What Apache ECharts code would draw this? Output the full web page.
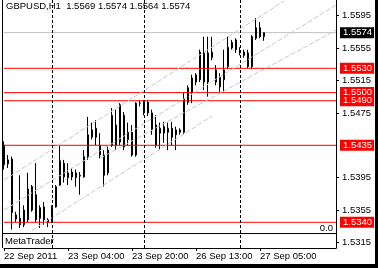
<!DOCTYPE html>
<html>
<head>
<meta charset="utf-8">
<script src="https://cdn.jsdelivr.net/npm/echarts@6.0.0/dist/echarts.min.js"></script>
<style>
html,body{margin:0;padding:0;background:#ffffff;overflow:hidden}
#chart{width:378px;height:268px}
</style>
</head>
<body>
<div id="chart"></div>
<script>
// ---------------- data ----------------
const symbolTitle = 'GBPUSD,H1  1.5569 1.5574 1.5564 1.5574';
const sessionDays = ['22 Sep', '23 Sep', '26 Sep', '27 Sep'];
const sessionFirstHour = [12, 0, 0, 0];
const sessionLastHour = [23, 22, 23, 6];
const futureSlots = 18;

const opens = [1.5435,1.5412,1.5418,1.5344,1.5345,1.5337,1.5343,1.5384,1.5343,1.5358,
1.5359,1.5340,1.5340,1.5359,1.5386,1.5396,1.5395,1.5402,1.5395,1.5397,
1.5396,1.5421,1.5445,1.5456,1.5435,1.5423,1.5401,1.5435,1.5460,1.5439,
1.5472,1.5442,1.5451,1.5423,1.5487,1.5475,1.5488,1.5475,1.5460,1.5450,
1.5450,1.5451,1.5456,1.5448,1.5451,1.5451,1.5506,1.5500,1.5513,1.5550,
1.5549,1.5549,1.5543,1.5528,1.5507,1.5528,1.5532,1.5555,1.5565,1.5550,
1.5550,1.5549,1.5532,1.5567,1.5580,1.5569];
const highs = [1.5440,1.5423,1.5421,1.5353,1.5398,1.5361,1.5401,1.5386,1.5413,1.5361,
1.5365,1.5345,1.5361,1.5386,1.5435,1.5417,1.5413,1.5407,1.5405,1.5402,
1.5429,1.5470,1.5463,1.5466,1.5450,1.5429,1.5435,1.5481,1.5479,1.5487,
1.5476,1.5463,1.5460,1.5488,1.5490,1.5491,1.5491,1.5479,1.5472,1.5463,
1.5464,1.5463,1.5464,1.5458,1.5456,1.5500,1.5509,1.5522,1.5524,1.5553,
1.5569,1.5569,1.5569,1.5534,1.5524,1.5553,1.5569,1.5565,1.5567,1.5556,
1.5553,1.5553,1.5571,1.5592,1.5587,1.5574];
const lows = [1.5405,1.5407,1.5331,1.5340,1.5333,1.5334,1.5340,1.5353,1.5340,1.5333,
1.5337,1.5334,1.5339,1.5358,1.5385,1.5389,1.5386,1.5392,1.5384,1.5374,
1.5395,1.5417,1.5442,1.5435,1.5419,1.5384,1.5398,1.5433,1.5429,1.5435,
1.5429,1.5435,1.5421,1.5421,1.5483,1.5472,1.5471,1.5448,1.5432,1.5429,
1.5438,1.5429,1.5435,1.5429,1.5448,1.5449,1.5485,1.5487,1.5509,1.5513,
1.5503,1.5495,1.5540,1.5509,1.5501,1.5501,1.5529,1.5553,1.5549,1.5546,
1.5543,1.5530,1.5529,1.5565,1.5567,1.5564];
const closes = [1.5411,1.5417,1.5352,1.5349,1.5337,1.5355,1.5381,1.5355,1.5374,1.5345,
1.5343,1.5343,1.5358,1.5384,1.5416,1.5413,1.5401,1.5396,1.5401,1.5398,
1.5421,1.5448,1.5454,1.5445,1.5423,1.5398,1.5429,1.5472,1.5435,1.5485,
1.5433,1.5451,1.5423,1.5487,1.5487,1.5488,1.5475,1.5454,1.5435,1.5456,
1.5458,1.5456,1.5445,1.5454,1.5454,1.5493,1.5488,1.5518,1.5522,1.5516,
1.5513,1.5513,1.5550,1.5513,1.5519,1.5516,1.5556,1.5562,1.5553,1.5549,
1.5546,1.5532,1.5569,1.5580,1.5569,1.5574];

const tickIndex = [0, 16, 32, 48, 64];
const tickLabels = ['22 Sep 2011', '23 Sep 04:00', '23 Sep 20:00', '26 Sep 13:00', '27 Sep 05:00'];
const priceTicks = [1.5595, 1.5555, 1.5515, 1.5475, 1.5395, 1.5355, 1.5315];
const redLevels = [1.5530, 1.5500, 1.5490, 1.5435, 1.5340];
const bidPrice = 1.5574;
const daySeparators = ['23 Sep 00:00', '26 Sep 00:00', '27 Sep 00:00'];
// channel lines: [startIndex, startPrice, endIndex, endPrice]
const channelLines = [
  [7, 1.5330, 52, 1.5471],
  [0, 1.5355, 83, 1.5608],
  [0, 1.5392, 70, 1.5613],
  [24, 1.5419, 83, 1.5577]
];
const subWindowName = 'MetaTrader';
const subWindowValue = '0.0';

// ---------------- build ----------------
const categories = [];
for (let d = 0; d < sessionDays.length; d++) {
  for (let h = sessionFirstHour[d]; h <= sessionLastHour[d]; h++) {
    categories.push(sessionDays[d] + ' ' + String(h).padStart(2, '0') + ':00');
  }
}
for (let k = 0; k < futureSlots; k++) {
  categories.push('27 Sep ' + String(7 + k).padStart(2, '0') + ':00');
}
const candleData = opens.map((o, i) => [o, closes[i], lows[i], highs[i]]);
const lastIdx = categories.length - 1;

const FONT = "'Liberation Sans', Arial, sans-serif";
const FS = 9.5;
const chart = echarts.init(document.getElementById('chart'), null, {renderer: 'canvas'});

function levelSeries(value, lineColor, boxColor, z) {
  return {
    type: 'line',
    data: [[0, value], [lastIdx, value]],
    symbol: 'none',
    silent: true,
    clip: false,
    z: z,
    lineStyle: {color: lineColor, width: 1, type: 'solid', opacity: 1},
    itemStyle: {color: lineColor},
    emphasis: {disabled: true},
    markLine: {
      silent: true,
      z: 2,
      symbol: ['none', 'none'],
      precision: 4,
      lineStyle: {color: 'rgba(255,255,255,0)', width: 1, opacity: 1},
      label: {
        show: true,
        position: 'end',
        distance: 4,
        formatter: (p) => Number(p.value).toFixed(4),
        color: '#fff',
        backgroundColor: boxColor,
        fontFamily: FONT,
        fontSize: FS,
        padding: [1, 2, 0, 3]
      },
      data: [{yAxis: value}]
    }
  };
}

const series = [
  {
    type: 'line',
    data: [],
    silent: true,
    markLine: {
      silent: true,
      symbol: ['none', 'none'],
      precision: 4,
      label: {show: false},
      lineStyle: {color: '#c8c8c8', width: 1, type: [5, 2]},
      data: channelLines.map(c => [{coord: [c[0], c[1]]}, {coord: [c[2], c[3]]}])
    }
  },
  levelSeries(bidPrice, '#c0c0c0', '#000000', 3)
];
redLevels.forEach(v => series.push(levelSeries(v, '#ff0000', '#ff0000', 4)));
series.push({
  type: 'candlestick',
  data: candleData,
  barWidth: 2,
  clip: false,
  z: 3,
  itemStyle: {
    color: '#ffffff', color0: '#000000',
    borderColor: '#000000', borderColor0: '#000000', borderColorDoji: '#000000',
    borderWidth: 1
  }
});
series.push({
  type: 'line',
  data: [],
  silent: true,
  markLine: {
    silent: true,
    z: 7,
    symbol: ['none', 'none'],
    label: {show: false},
    lineStyle: {color: '#000', width: 1, type: [3, 2]},
    data: daySeparators.map(d => ({xAxis: d}))
  }
});

chart.setOption({
  animation: false,
  backgroundColor: '#ffffff',
  title: {
    text: symbolTitle,
    left: 6, top: 1, padding: 0,
    textStyle: {fontFamily: FONT, fontSize: FS, fontWeight: 'normal', color: '#000'}
  },
  grid: {left: 4, right: 42, top: 0, bottom: 20, containLabel: false},
  xAxis: {
    type: 'category',
    data: categories,
    boundaryGap: false,
    axisLine: {show: true, onZero: false, lineStyle: {color: '#000', width: 1}},
    axisTick: {show: true, length: 3, interval: (i) => tickIndex.includes(i), lineStyle: {color: '#000'}},
    axisLabel: {
      show: true,
      interval: (i) => tickIndex.includes(i),
      formatter: (v, i) => tickLabels[tickIndex.indexOf(i)] || '',
      align: 'left',
      margin: 3,
      color: '#000',
      fontFamily: FONT,
      fontSize: FS
    },
    splitLine: {show: false}
  },
  yAxis: {
    type: 'value',
    position: 'right',
    min: 1.530828,
    max: 1.561427,
    scale: true,
    axisLine: {show: true, onZero: false, lineStyle: {color: '#000', width: 1}},
    axisTick: {show: true, length: 3, customValues: priceTicks, lineStyle: {color: '#000'}},
    axisLabel: {
      show: true,
      customValues: priceTicks,
      formatter: (v) => Number(v).toFixed(4),
      margin: 6,
      color: '#000',
      fontFamily: FONT,
      fontSize: FS
    },
    splitLine: {show: false}
  },
  graphic: [
    {type: 'line', shape: {x1: 2.5, y1: 0, x2: 2.5, y2: 248}, style: {stroke: '#000', lineWidth: 1}, z: 10},
    {type: 'line', shape: {x1: 3, y1: 233.5, x2: 336, y2: 233.5}, style: {stroke: '#000', lineWidth: 1}, z: 10},
    {type: 'text', left: 5, top: 236, style: {text: subWindowName, fontFamily: FONT, fontSize: FS, fill: '#000'}, z: 10},
    {type: 'text', right: 45, top: 223, style: {text: subWindowValue, fontFamily: FONT, fontSize: FS, fill: '#000'}, z: 10},
    {type: 'rect', shape: {x: 375, y: 0, width: 3, height: 268}, style: {fill: '#000'}, z: 10},
    {type: 'rect', shape: {x: 0, y: 264, width: 378, height: 4}, style: {fill: '#000'}, z: 10}
  ],
  series: series
});
</script>
</body>
</html>
